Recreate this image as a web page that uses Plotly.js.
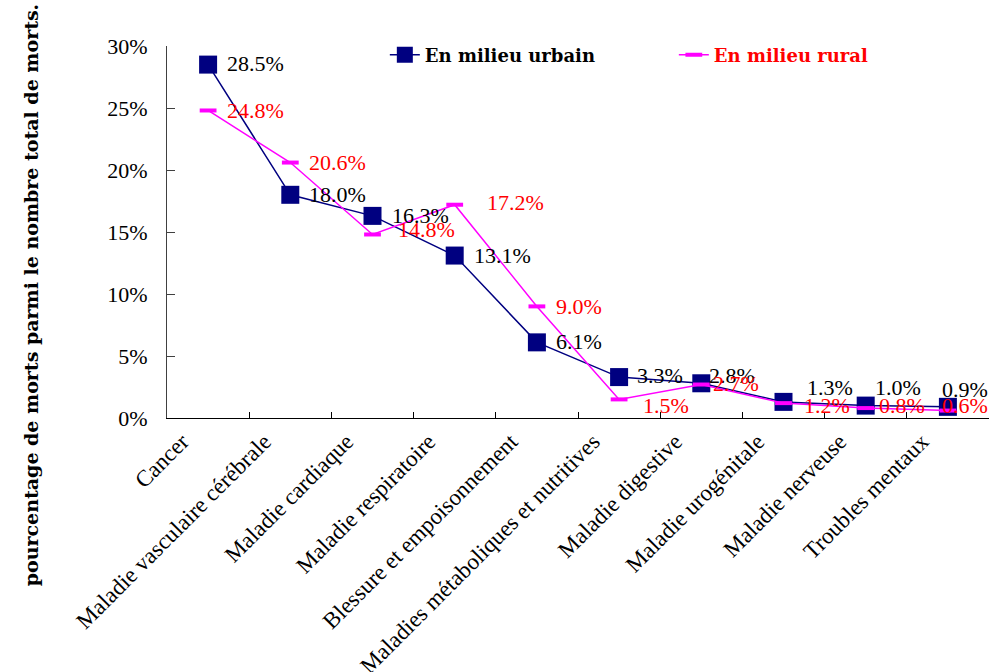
<!DOCTYPE html>
<html>
<head>
<meta charset="utf-8">
<script src="https://cdn.plot.ly/plotly-3.0.1.min.js"></script>
<style>html,body{margin:0;padding:0;background:#fff;}#chart{width:991px;height:672px;}</style>
</head>
<body>
<div id="chart"></div>
<script>
const categories = ['Cancer', 'Maladie vasculaire cérébrale', 'Maladie cardiaque', 'Maladie respiratoire',
  'Blessure et empoisonnement', 'Maladies métaboliques et nutritives', 'Maladie digestive',
  'Maladie urogénitale', 'Maladie nerveuse', 'Troubles mentaux'];
const urban = [28.5, 18.0, 16.3, 13.1, 6.1, 3.3, 2.8, 1.3, 1.0, 0.9];
const rural = [24.8, 20.6, 14.8, 17.2, 9.0, 1.5, 2.7, 1.2, 0.8, 0.6];
const yTicks = [0, 5, 10, 15, 20, 25, 30];
const urbanName = 'En milieu urbain';
const ruralName = 'En milieu rural';
const yTitle = 'pourcentage de morts parmi le nombre total de morts.';

// label nudges in pixels [right, up]
const urbanShift = [[17,1],[17,0],[17,0],[17,0],[17,1],[16,2],[6,8],[21,14],[7,18],[-8,17]];
const ruralShift = [[17,0],[17,0],[23,5],[30,2],[17,0],[22,-6],[10,1],[18,-2],[11,3],[-8,5]];

const serif = 'Liberation Serif';
const boldSerif = 'DejaVu Serif';

const traces = [
  {
    x: categories, y: urban, name: urbanName, type: 'scatter', mode: 'lines+markers',
    line: {color: '#000080', width: 1.5},
    marker: {symbol: 'square', size: 18, color: '#000080'},
    cliponaxis: false
  },
  {
    x: categories, y: rural, name: '<span style="color:#FF0000">' + ruralName + '</span>',
    type: 'scatter', mode: 'lines+markers',
    line: {color: '#FF00FF', width: 1.5},
    marker: {symbol: 'line-ew', size: 12, color: '#FF00FF', line: {color: '#FF00FF', width: 4}},
    cliponaxis: false
  }
];

const annotations = [];
categories.forEach((c, i) => {
  annotations.push({x: c, y: urban[i], xref: 'x', yref: 'y', text: urban[i].toFixed(1) + '%',
    showarrow: false, xanchor: 'left', yanchor: 'middle', xshift: urbanShift[i][0], yshift: urbanShift[i][1],
    font: {family: serif, size: 22, color: '#000000'}});
});
categories.forEach((c, i) => {
  annotations.push({x: c, y: rural[i], xref: 'x', yref: 'y', text: rural[i].toFixed(1) + '%',
    showarrow: false, xanchor: 'left', yanchor: 'middle', xshift: ruralShift[i][0], yshift: ruralShift[i][1],
    font: {family: serif, size: 22, color: '#FF0000'}});
});
annotations.push({
  text: yTitle, xref: 'paper', yref: 'paper', x: 0, y: 0.33,
  xanchor: 'center', yanchor: 'middle', xshift: -136, textangle: -90, showarrow: false,
  font: {family: boldSerif, size: 19, color: '#000000', weight: 700}
});

const layout = {
  width: 991, height: 672,
  margin: {l: 167, r: 2, t: 46, b: 254},
  paper_bgcolor: '#ffffff', plot_bgcolor: '#ffffff',
  showlegend: true,
  legend: {
    orientation: 'h', x: 0.265, xanchor: 'left', y: 0.976, yanchor: 'middle',
    font: {family: boldSerif, size: 18, color: '#000000', weight: 700},
    entrywidth: 244, bgcolor: 'rgba(0,0,0,0)'
  },
  xaxis: {
    type: 'category', tickson: 'boundaries', ticks: 'inside', ticklen: 6, tickcolor: '#000',
    showline: true, linecolor: '#000', linewidth: 1, showgrid: false, zeroline: false,
    tickangle: -45, ticklabelshift: -26,
    tickfont: {family: serif, size: 23, color: '#000'},
    range: [-0.5, 9.5]
  },
  yaxis: {
    range: [0, 30], tickvals: yTicks, ticktext: yTicks.map(v => v + '%'),
    ticks: 'inside', ticklen: 8, tickcolor: '#404040',
    showline: true, linecolor: '#404040', linewidth: 1, showgrid: false, zeroline: false,
    ticklabelstandoff: 14,
    tickfont: {family: serif, size: 22, color: '#000'}
  },
  annotations: annotations
};

Plotly.newPlot('chart', traces, layout, {displayModeBar: false, staticPlot: true});
</script>
</body>
</html>
